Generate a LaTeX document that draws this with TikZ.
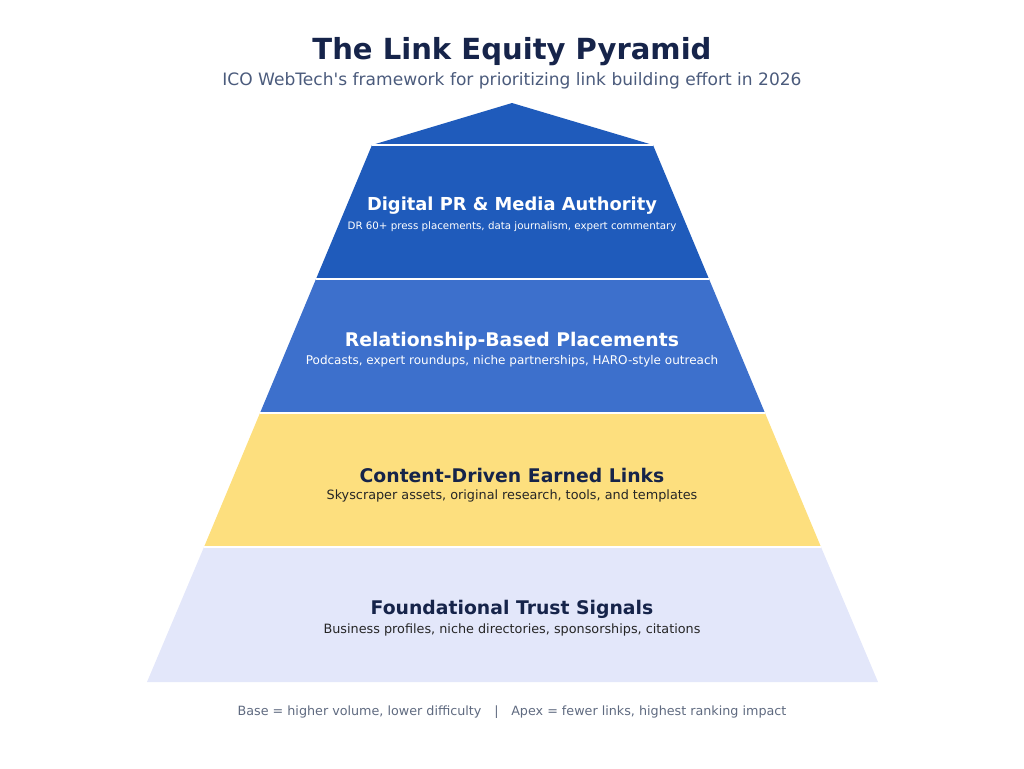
\documentclass[tikz,border=0pt]{standalone}
\usepackage{fontspec}
\setmainfont{DejaVu Sans}
\usepackage{xcolor}
\definecolor{navy}{HTML}{16244A}
\definecolor{subgray}{HTML}{4B5B7C}
\definecolor{footgray}{HTML}{5F6A80}
\definecolor{apexblue}{HTML}{1F5BBB}
\definecolor{midblue}{HTML}{3D70CC}
\definecolor{gold}{HTML}{FDDF7E}
\definecolor{lavender}{HTML}{E3E7FA}

\begin{document}
\begin{tikzpicture}[x=0.75pt,y=0.75pt,yscale=-1,xscale=1,
    layertitle/.style={inner sep=0.75pt,font=\fontsize{14.1}{17}\selectfont\bfseries},
    layersub/.style={inner sep=0.75pt,font=\fontsize{9.6}{11}\selectfont},
    sep/.style={white,line width=1}]
    \useasboundingbox (0,0) rectangle (1024,768);
    % pyramid layers
    \fill[apexblue] (512,103) -- (653,145) -- (372,145) -- cycle;
    \fill[apexblue] (372,145) -- (653,145) -- (709,279) -- (316,279) -- cycle;
    \fill[midblue] (316,279) -- (709,279) -- (765,413) -- (260,413) -- cycle;
    \fill[gold] (260,413) -- (765,413) -- (821,547) -- (204,547) -- cycle;
    \fill[lavender] (204,547) -- (821,547) -- (878,682) -- (147,682) -- cycle;
    \draw[sep] (372,145) -- (653,145);
    \draw[sep] (316,279) -- (709,279);
    \draw[sep] (260,413) -- (765,413);
    \draw[sep] (204,547) -- (821,547);
    % title
    \node (title) at (512,52) [inner sep=0.75pt,font=\fontsize{21.8}{26}\selectfont\bfseries,text=navy] {The Link Equity Pyramid};
    \node (subtitle) at (512,81) [inner sep=0.75pt,font=\fontsize{12.8}{15}\selectfont,text=subgray] {ICO WebTech\textquotesingle s framework for prioritizing link building effort in 2026};
    % layer texts
    \node (prT) at (512,206) [layertitle,font=\fontsize{13.4}{16}\selectfont\bfseries,text=white] {Digital PR \& Media Authority};
    \node (prS) at (512,227) [layersub,font=\fontsize{7.7}{9}\selectfont,text=white] {DR 60+ press placements, data journalism, expert commentary};
    \node (relT) at (512,341) [layertitle,text=white] {Relationship-Based Placements};
    \node (relS) at (512,361) [layersub,font=\fontsize{9}{11}\selectfont,text=white] {Podcasts, expert roundups, niche partnerships, HARO-style outreach};
    \node (conT) at (512,475) [layertitle,text=navy] {Content-Driven Earned Links};
    \node (conS) at (512,496) [layersub,text=black!85] {Skyscraper assets, original research, tools, and templates};
    \node (fndT) at (512,609) [layertitle,text=navy] {Foundational Trust Signals};
    \node (fndS) at (512,630) [layersub,text=black!85] {Business profiles, niche directories, sponsorships, citations};
    % footer
    \node (foot) at (512,712) [inner sep=0.75pt,font=\fontsize{9.55}{11}\selectfont,text=footgray] {Base = higher volume, lower difficulty\quad|\quad Apex = fewer links, highest ranking impact};
\end{tikzpicture}
\end{document}
